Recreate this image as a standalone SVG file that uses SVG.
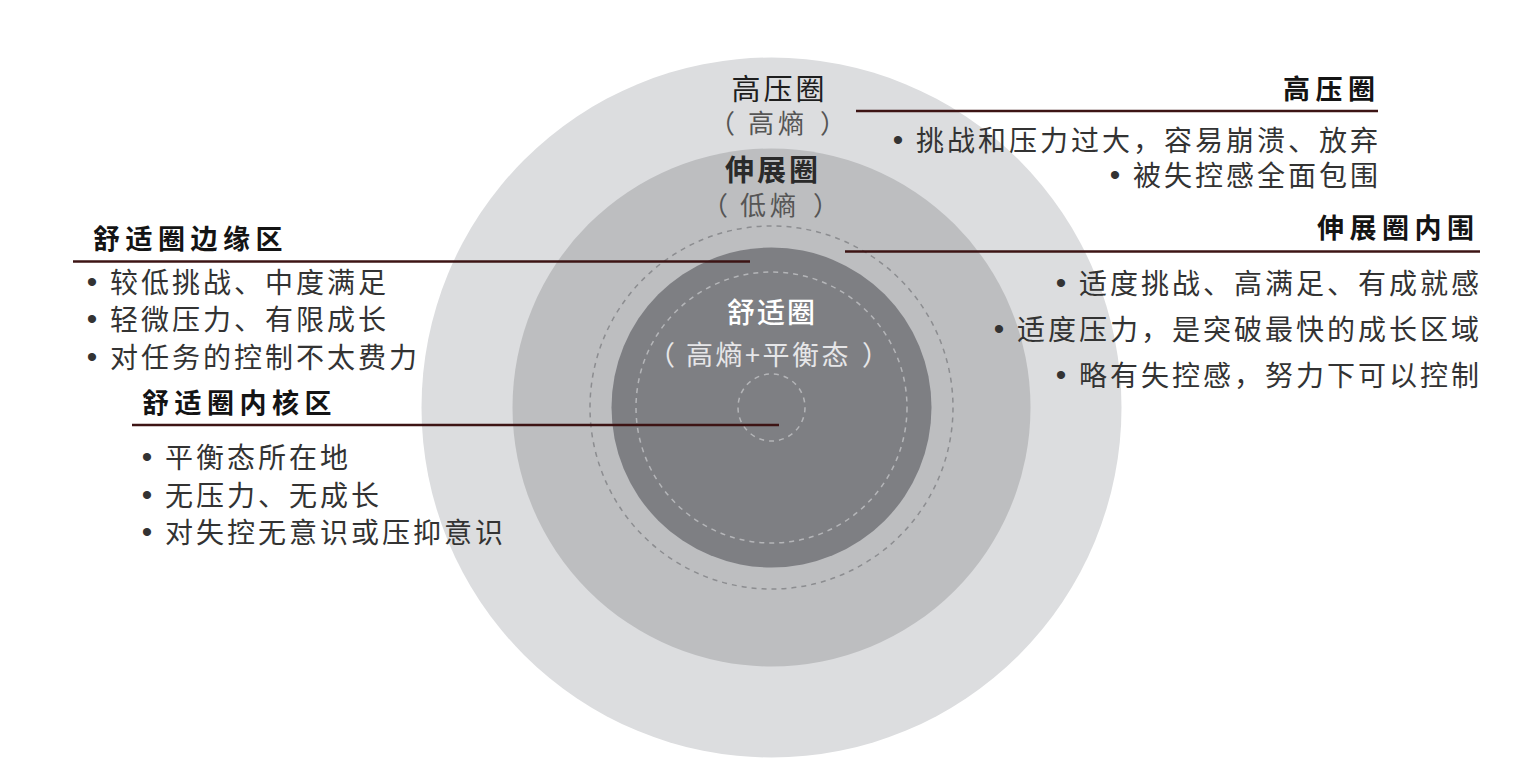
<svg xmlns="http://www.w3.org/2000/svg" width="1536" height="774" viewBox="0 0 1536 774">
<style>
.cjk{font-family:"Noto Sans CJK SC","Noto Sans CJK TC",sans-serif}
.title{font-family:"Noto Sans CJK SC",sans-serif;font-size:27px;font-weight:700;fill:#141414;letter-spacing:5.5px}
.body{font-family:"Noto Sans CJK SC",sans-serif;font-size:28px;font-weight:400;fill:#333333;letter-spacing:3px}
.dot{font-family:"Liberation Sans",sans-serif;font-size:30px;fill:#333333;text-anchor:middle}
.sub{font-family:"Noto Sans CJK SC",sans-serif;font-size:26px;font-weight:400;fill:#555}
.lead{stroke:#3d1414;stroke-width:2.4;fill:none}
.dash{fill:none;stroke-width:1.5;stroke-dasharray:5 5}
</style>
<rect width="1536" height="774" fill="#ffffff"/>
<g id="rings">
  <circle id="ring-high" cx="771.5" cy="407.5" r="350" fill="#dcdddf"/>
  <circle id="ring-stretch" cx="771.5" cy="407.5" r="259" fill="#bdbec0"/>
  <circle id="dash-stretch" class="dash" cx="771.5" cy="407.5" r="181.5" stroke="#8c8d90"/>
  <circle id="ring-comfort" cx="771.5" cy="407.5" r="160" fill="#7e7f83"/>
  <circle id="dash-comfort" class="dash" cx="771.5" cy="407.5" r="135.5" stroke="#b4b5b8"/>
  <circle id="dash-core" class="dash" cx="771.5" cy="407.5" r="33.5" stroke="#b4b5b8" stroke-dasharray="5 4"/>
</g>
<g id="label-high-ring">
  <text class="cjk" x="731.5" y="100" font-size="29" fill="#1e1e1e" letter-spacing="3">高压圈</text>
  <text class="sub"><tspan x="709" y="133">（</tspan><tspan x="748" y="133" letter-spacing="4">高熵</tspan><tspan x="820" y="133">）</tspan></text>
</g>
<g id="label-stretch-ring">
  <text class="cjk" x="725" y="181" font-size="29" font-weight="700" fill="#2a2a2a" letter-spacing="3">伸展圈</text>
  <text class="sub"><tspan x="702" y="215">（</tspan><tspan x="740" y="215" letter-spacing="4">低熵</tspan><tspan x="813" y="215">）</tspan></text>
</g>
<g id="label-comfort-ring">
  <text class="cjk" x="727" y="323" font-size="28" font-weight="500" fill="#ffffff" letter-spacing="2">舒适圈</text>
  <text class="cjk" font-size="27" fill="#e6e6e8"><tspan x="648" y="365">（</tspan><tspan x="686" y="365" letter-spacing="2.5">高熵+平衡态</tspan><tspan x="862" y="365">）</tspan></text>
</g>
<g id="connectors">
  <line class="lead" x1="856" y1="111" x2="1378" y2="111"/>
  <line class="lead" x1="845" y1="251.5" x2="1480" y2="251.5"/>
  <line class="lead" x1="73" y1="261.5" x2="750" y2="261.5"/>
  <line class="lead" x1="132" y1="425" x2="779" y2="425"/>
</g>
<g id="note-high">
  <text class="title" x="1283" y="99">高压圈</text>
  <text class="dot" x="898" y="150">•</text>
  <text class="body" x="916" y="151">挑战和压力过大，容易崩溃、放弃</text>
  <text class="dot" x="1115" y="185">•</text>
  <text class="body" x="1133" y="186">被失控感全面包围</text>
</g>
<g id="note-stretch-inner">
  <text class="title" x="1317" y="238">伸展圈内围</text>
  <text class="dot" x="1061" y="293">•</text>
  <text class="body" x="1079" y="294">适度挑战、高满足、有成就感</text>
  <text class="dot" x="999" y="339">•</text>
  <text class="body" x="1017" y="340">适度压力，是突破最快的成长区域</text>
  <text class="dot" x="1061" y="385">•</text>
  <text class="body" x="1079" y="386">略有失控感，努力下可以控制</text>
</g>
<g id="note-comfort-edge">
  <text class="title" x="93" y="249">舒适圈边缘区</text>
  <text class="dot" x="92" y="292">•</text>
  <text class="body" x="110" y="293">较低挑战、中度满足</text>
  <text class="dot" x="92" y="329">•</text>
  <text class="body" x="110" y="330">轻微压力、有限成长</text>
  <text class="dot" x="92" y="367">•</text>
  <text class="body" x="110" y="368">对任务的控制不太费力</text>
</g>
<g id="note-comfort-core">
  <text class="title" x="142" y="413">舒适圈内核区</text>
  <text class="dot" x="147" y="467">•</text>
  <text class="body" x="165" y="468">平衡态所在地</text>
  <text class="dot" x="147" y="505">•</text>
  <text class="body" x="165" y="506">无压力、无成长</text>
  <text class="dot" x="147" y="542">•</text>
  <text class="body" x="165" y="543">对失控无意识或压抑意识</text>
</g>
</svg>
